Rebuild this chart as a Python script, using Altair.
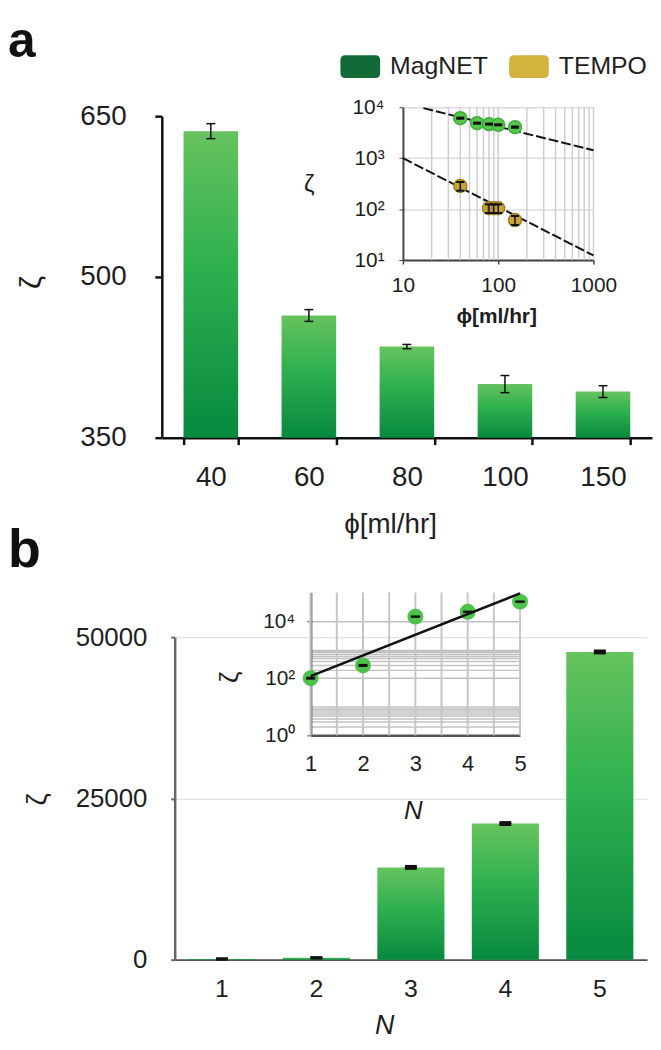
import altair as alt
import pandas as pd

W, H = 650, 1034
FONT = 'Liberation Sans'
INK = '#1e1e1e'

# ---------------- data ----------------
# panel a (main bars)
phi_labels = ['40', '60', '80', '100', '150']
zeta_a = [636, 464, 435, 400, 393]
zeta_a_err = [7, 5.5, 2, 8, 5.5]

# panel a inset (log-log)
series_names = ['MagNET', 'TEMPO']
magnet_phi = [40, 60, 80, 100, 150]
magnet_zeta = [6100, 4870, 4670, 4520, 4070]
magnet_err = [150, 120, 110, 110, 100]
tempo_phi = [40, 80, 90, 100, 150]
tempo_zeta = [285, 104, 104, 104, 61]
tempo_err = [55, 20, 20, 20, 12]
magnet_fit_phi = [16.4, 1000]
magnet_fit_zeta = [9600, 1430]
tempo_fit_phi = [10, 1000]
tempo_fit_zeta = [1000, 12.3]

# panel b (main bars + inset)
n_labels = ['1', '2', '3', '4', '5']
n_values = [1, 2, 3, 4, 5]
zeta_b = [100, 280, 14300, 21100, 47700]
zeta_b_err = [4, 12, 150, 150, 150]

# tick / grid values
a_y_ticks = [350, 500, 650]
b_y_ticks = [0, 25000, 50000]
ia_x_labels = [10, 100, 1000]
ia_x_grid = [20, 30, 40, 50, 60, 70, 80, 90, 100, 200, 300, 400, 500, 600, 700, 800, 900, 1000]
ia_y_labels = [10, 100, 1000, 10000]
ia_y_extent = [10, 10000]
ib_x_grid = [1, 1.5, 2, 2.5, 3, 3.5, 4, 4.5, 5]
ib_y_labels = [1, 100, 10000]
ib_y_grid = [2, 3, 4, 5, 6, 7, 8, 9, 10, 100, 200, 300, 400, 500, 600, 700, 800, 900, 1000, 10000]
ib_y_extent = [1, 100000]
panel_labels = ['a', 'b']

# ---------------- tables ----------------
dfa = pd.DataFrame({'phi': phi_labels, 'zeta': zeta_a,
                    'lo': [v - e for v, e in zip(zeta_a, zeta_a_err)],
                    'hi': [v + e for v, e in zip(zeta_a, zeta_a_err)]})
dfb = pd.DataFrame({'n': n_labels, 'N': n_values, 'zeta': zeta_b,
                    'lo': [v - e for v, e in zip(zeta_b, zeta_b_err)],
                    'hi': [v + e for v, e in zip(zeta_b, zeta_b_err)]})
dfia = pd.DataFrame({
    'series': [series_names[0]] * len(magnet_phi) + [series_names[1]] * len(tempo_phi),
    'phi': magnet_phi + tempo_phi,
    'zeta': magnet_zeta + tempo_zeta,
    'lo': [v - e for v, e in zip(magnet_zeta, magnet_err)] + [v - e for v, e in zip(tempo_zeta, tempo_err)],
    'hi': [v + e for v, e in zip(magnet_zeta, magnet_err)] + [v + e for v, e in zip(tempo_zeta, tempo_err)],
})
dffit = pd.DataFrame({
    'series': [series_names[0]] * 2 + [series_names[1]] * 2,
    'phi': magnet_fit_phi + tempo_fit_phi,
    'zeta': magnet_fit_zeta + tempo_fit_zeta,
})
df_ia_grid = pd.DataFrame({'phi': ia_x_grid, 'lo': ia_y_extent[0], 'hi': ia_y_extent[1]})
df_ib_grid = pd.DataFrame({'N': ib_x_grid, 'lo': ib_y_extent[0], 'hi': ib_y_extent[1]})

# ---------------- scales (pixel ranges inside one canvas) ----------------
XA = alt.Scale(domain=phi_labels, range=[155, 649], paddingInner=0.443, paddingOuter=0.2215)
YA = alt.Scale(domain=[350, 650], range=[429, 105], zero=False, nice=False)
XB = alt.Scale(domain=n_labels, range=[168, 644], paddingInner=0.29, paddingOuter=0.145)
YB = alt.Scale(domain=[0, 50000], range=[955, 630], zero=False, nice=False)
XIA = alt.Scale(type='log', domain=[10, 1000], range=[398, 590], nice=False)
YIA = alt.Scale(type='log', domain=ia_y_extent, range=[250, 96], nice=False)
XIB = alt.Scale(domain=[1, 5], range=[305, 516], zero=False, nice=False)
YIB = alt.Scale(type='log', domain=ib_y_extent, range=[729, 585], nice=False)

SUP = "'10' + ['⁰','¹','²','³','⁴','⁵'][round(log(datum.value)/LN10)]"

grad = alt.Gradient(gradient='linear', x1=0, x2=0, y1=0, y2=1,
                    stops=[alt.GradientStop(color='#66c35e', offset=0),
                           alt.GradientStop(color='#2db04e', offset=0.45),
                           alt.GradientStop(color='#07893f', offset=1)])

# ---------------- axes ----------------
ax_a_x = alt.Axis(orient='bottom', offset=429 - H, title='ϕ[ml/hr]', titleX=385, titleY=88,
                  titleAlign='center', titleBaseline='middle', titleFontSize=28,
                  labelAngle=0, labelFontSize=28, labelPadding=33, labelBaseline='middle',
                  tickBand='extent', domainColor='#111', domainWidth=2.5,
                  tickColor='#111', tickWidth=2.5, tickSize=7, grid=False)
ax_a_y = alt.Axis(orient='left', offset=-155, values=a_y_ticks, format='d', title='ζ',
                  titleX=-131, titleY=272, titleAngle=270, titleAlign='center',
                  titleBaseline='middle', titleFontSize=30, labelFontSize=28, labelPadding=29,
                  tickSize=7, tickWidth=2.5, tickColor='#111', domainColor='#111',
                  domainWidth=2.5, grid=False)
ax_b_x = alt.Axis(orient='bottom', offset=955 - H, title='N', titleFontStyle='italic',
                  titleX=379, titleY=66, titleAlign='center', titleBaseline='middle',
                  titleFontSize=27, labelFontSize=25, labelAngle=0, labelPadding=29,
                  labelBaseline='middle', ticks=False, tickSize=0, domainColor='#555',
                  domainWidth=2, grid=False)
ax_b_y = alt.Axis(orient='left', offset=-168, values=b_y_ticks, format='d', grid=True,
                  gridColor='#e2e2e2', gridWidth=1.5, title='ζ', titleX=-138, titleY=793,
                  titleAngle=270, titleAlign='center', titleBaseline='middle', titleFontSize=28,
                  labelFontSize=26, labelPadding=24, tickSize=4, tickWidth=2, tickColor='#666',
                  domainColor='#666', domainWidth=2.5)
ax_ia_x = alt.Axis(orient='bottom', offset=250 - H, values=ia_x_labels, format='d',
                   title='ϕ[ml/hr]', titleX=492, titleY=57, titleAlign='center',
                   titleBaseline='middle', titleFontSize=21, titleFontWeight='bold',
                   labelFontSize=21, labelPadding=22, labelBaseline='middle', labelFlush=False,
                   labelOverlap=False, tickSize=4, tickColor='#444', tickWidth=1.5,
                   domainColor='#444', domainWidth=2, grid=False)
ax_ia_y = alt.Axis(orient='left', offset=-398, values=ia_y_labels, labelExpr=SUP, grid=True,
                   gridColor='#dcdcdc', gridWidth=1.5, title='ζ', titleX=-95, titleY=174,
                   titleAngle=0, titleAlign='center', titleBaseline='middle', titleFontSize=24,
                   labelFontSize=21, labelPadding=15, tickSize=4, tickColor='#444',
                   domainColor='#444', domainWidth=2, labelFlush=False, labelOverlap=False)
ax_ib_x = alt.Axis(orient='bottom', offset=729 - H, values=n_values, format='d', title='N',
                   titleFontStyle='italic', titleX=408, titleY=76, titleAlign='center',
                   titleBaseline='middle', titleFontSize=26, labelFontSize=22, labelPadding=28,
                   labelBaseline='middle', ticks=False, tickSize=0, domainColor='#555',
                   domainWidth=2.5, grid=False, labelFlush=False, labelOverlap=False)
ax_ib_y = alt.Axis(orient='left', offset=-305, values=ib_y_labels, labelExpr=SUP, title='ζ',
                   titleX=-82, titleY=670, titleAngle=270, titleAlign='center',
                   titleBaseline='middle', titleFontSize=26, labelFontSize=21, labelPadding=12,
                   tickSize=4, tickColor='#555', domainColor='#555', domainWidth=2.5,
                   grid=False, labelFlush=False, labelOverlap=False)
ax_ib_ygrid = alt.Axis(orient='left', offset=-305, values=ib_y_grid, grid=True,
                       gridColor='#c2c2c2', gridWidth=1.5, labels=False, ticks=False,
                       domain=False, title=None)

# ---------------- panel a : main ----------------
bars_a = alt.Chart(dfa).mark_bar(color=grad, opacity=1).encode(
    x=alt.X('phi:N', scale=XA, sort=phi_labels, axis=ax_a_x),
    y=alt.Y('zeta:Q', scale=YA, axis=ax_a_y),
    y2=alt.datum(350),
)
err_a_rule = alt.Chart(dfa).mark_rule(color='#111', strokeWidth=1.5).encode(
    x=alt.X('phi:N', scale=XA, sort=phi_labels, axis=None),
    y=alt.Y('lo:Q', scale=YA, axis=None), y2='hi:Q')
err_a_lo = alt.Chart(dfa).mark_tick(orient='horizontal', size=9, thickness=1.5, color='#111', opacity=1).encode(
    x=alt.X('phi:N', scale=XA, sort=phi_labels, axis=None),
    y=alt.Y('lo:Q', scale=YA, axis=None))
err_a_hi = alt.Chart(dfa).mark_tick(orient='horizontal', size=9, thickness=1.5, color='#111', opacity=1).encode(
    x=alt.X('phi:N', scale=XA, sort=phi_labels, axis=None),
    y=alt.Y('hi:Q', scale=YA, axis=None))

# ---------------- panel a : inset ----------------
ia_vgrid = alt.Chart(df_ia_grid).mark_rule(color='#cfcfcf', strokeWidth=1.5).encode(
    x=alt.X('phi:Q', scale=XIA, axis=None),
    y=alt.Y('lo:Q', scale=YIA, axis=None), y2='hi:Q')
legend_sym = ("M-0.75,-0.575L0.75,-0.575Q1,-0.575,1,-0.325L1,0.325Q1,0.575,0.75,0.575"
              "L-0.75,0.575Q-1,0.575,-1,0.325L-1,-0.325Q-1,-0.575,-0.75,-0.575Z")
ia_legend = alt.Chart(dfia).mark_circle(size=169, opacity=1).encode(
    x=alt.X('phi:Q', scale=XIA, axis=ax_ia_x),
    y=alt.Y('zeta:Q', scale=YIA, axis=ax_ia_y),
    color=alt.Color('series:N', scale=alt.Scale(domain=series_names, range=['#126b36', '#d3b33e']),
                    legend=alt.Legend(orient='none', legendX=335, legendY=35, direction='horizontal',
                                      title=None, symbolType=legend_sym, symbolSize=1600,
                                      symbolStrokeWidth=0, symbolOpacity=1, labelFontSize=25,
                                      labelFont=FONT, labelColor=INK, labelOffset=10,
                                      columnPadding=21, padding=0, labelLimit=300)),
)
ia_fit = alt.Chart(dffit).mark_line(color='#111', strokeWidth=2, strokeDash=[10, 3]).encode(
    x=alt.X('phi:Q', scale=XIA, axis=None),
    y=alt.Y('zeta:Q', scale=YIA, axis=None),
    detail='series:N',
)
ia_points = alt.Chart(dfia).mark_circle(size=169, opacity=1, strokeWidth=1.5).encode(
    x=alt.X('phi:Q', scale=XIA, axis=None),
    y=alt.Y('zeta:Q', scale=YIA, axis=None),
    color=alt.Color('series:N', scale=alt.Scale(domain=series_names, range=['#56c84d', '#c9a639']), legend=None),
    stroke=alt.Stroke('series:N', scale=alt.Scale(domain=series_names, range=['#3fae3a', '#9c7d25']), legend=None),
)
ia_rule = alt.Chart(dfia).mark_rule(color='#111', strokeWidth=1.5).encode(
    x=alt.X('phi:Q', scale=XIA, axis=None),
    y=alt.Y('lo:Q', scale=YIA, axis=None), y2='hi:Q')
ia_lo = alt.Chart(dfia).mark_tick(orient='horizontal', size=8, thickness=2, color='#111', opacity=1).encode(
    x=alt.X('phi:Q', scale=XIA, axis=None),
    y=alt.Y('lo:Q', scale=YIA, axis=None))
ia_hi = alt.Chart(dfia).mark_tick(orient='horizontal', size=8, thickness=2, color='#111', opacity=1).encode(
    x=alt.X('phi:Q', scale=XIA, axis=None),
    y=alt.Y('hi:Q', scale=YIA, axis=None))

# ---------------- panel b : main ----------------
bars_b = alt.Chart(dfb).mark_bar(color=grad, opacity=1).encode(
    x=alt.X('n:N', scale=XB, sort=n_labels, axis=ax_b_x),
    y=alt.Y('zeta:Q', scale=YB, axis=ax_b_y),
    y2=alt.datum(0),
)
err_b_rule = alt.Chart(dfb).mark_rule(color='#111', strokeWidth=1.5).encode(
    x=alt.X('n:N', scale=XB, sort=n_labels, axis=None),
    y=alt.Y('lo:Q', scale=YB, axis=None), y2='hi:Q')
err_b_lo = alt.Chart(dfb).mark_tick(orient='horizontal', size=12, thickness=3, color='#111', opacity=1).encode(
    x=alt.X('n:N', scale=XB, sort=n_labels, axis=None),
    y=alt.Y('lo:Q', scale=YB, axis=None))
err_b_hi = alt.Chart(dfb).mark_tick(orient='horizontal', size=12, thickness=3, color='#111', opacity=1).encode(
    x=alt.X('n:N', scale=XB, sort=n_labels, axis=None),
    y=alt.Y('hi:Q', scale=YB, axis=None))

# ---------------- panel b : inset ----------------
ib_vgrid = alt.Chart(df_ib_grid).mark_rule(color='#c6c6c6', strokeWidth=2).encode(
    x=alt.X('N:Q', scale=XIB, axis=None),
    y=alt.Y('lo:Q', scale=YIB, axis=None), y2='hi:Q')
ib_points = alt.Chart(dfb).mark_circle(size=256, color='#4cc24a', opacity=1).encode(
    x=alt.X('N:Q', scale=XIB, axis=ax_ib_x),
    y=alt.Y('zeta:Q', scale=YIB, axis=ax_ib_y),
)
ib_fit = alt.Chart(dfb).transform_calculate(
    logz='log(datum.zeta)/LN10'
).transform_regression('N', 'logz', method='linear', extent=[1, 5]).transform_calculate(
    zfit='pow(10, datum.logz)'
).mark_line(color='#111', strokeWidth=2.5).encode(
    x=alt.X('N:Q', scale=XIB, axis=None),
    y=alt.Y('zfit:Q', scale=YIB, axis=ax_ib_ygrid),
)
ib_lo = alt.Chart(dfb).mark_tick(orient='horizontal', size=9, thickness=2, color='#111', opacity=1).encode(
    x=alt.X('N:Q', scale=XIB, axis=None),
    y=alt.Y('lo:Q', scale=YIB, axis=None))
ib_hi = alt.Chart(dfb).mark_tick(orient='horizontal', size=9, thickness=2, color='#111', opacity=1).encode(
    x=alt.X('N:Q', scale=XIB, axis=None),
    y=alt.Y('hi:Q', scale=YIB, axis=None))

# ---------------- panel letters ----------------
lab_a = alt.Chart(pd.DataFrame({'t': [panel_labels[0]]})).mark_text(
    font=FONT, fontSize=50, fontWeight='bold', align='left', baseline='alphabetic', color='#111'
).encode(text='t:N', x=alt.value(0), y=alt.value(45))
lab_b = alt.Chart(pd.DataFrame({'t': [panel_labels[1]]})).mark_text(
    font=FONT, fontSize=54, fontWeight='bold', align='left', baseline='alphabetic', color='#111'
).encode(text='t:N', x=alt.value(0), y=alt.value(559))

chart = alt.layer(
    ib_vgrid, ia_vgrid,
    bars_b, err_b_rule, err_b_lo, err_b_hi,
    bars_a, err_a_rule, err_a_lo, err_a_hi,
    ia_legend, ia_fit, ia_points, ia_rule, ia_lo, ia_hi,
    ib_points, ib_fit, ib_lo, ib_hi,
    lab_a, lab_b,
).resolve_scale(
    x='independent', y='independent', color='independent', stroke='independent'
).resolve_axis(
    x='independent', y='independent'
).properties(
    width=W, height=H, padding=0, autosize=alt.AutoSizeParams(type='none')
).configure_view(
    stroke=None
).configure_axis(
    labelFont=FONT, titleFont=FONT, labelColor=INK, titleColor=INK, titleFontWeight='normal'
)

chart.save('out.html', embed_options={'renderer': 'svg', 'actions': False})
